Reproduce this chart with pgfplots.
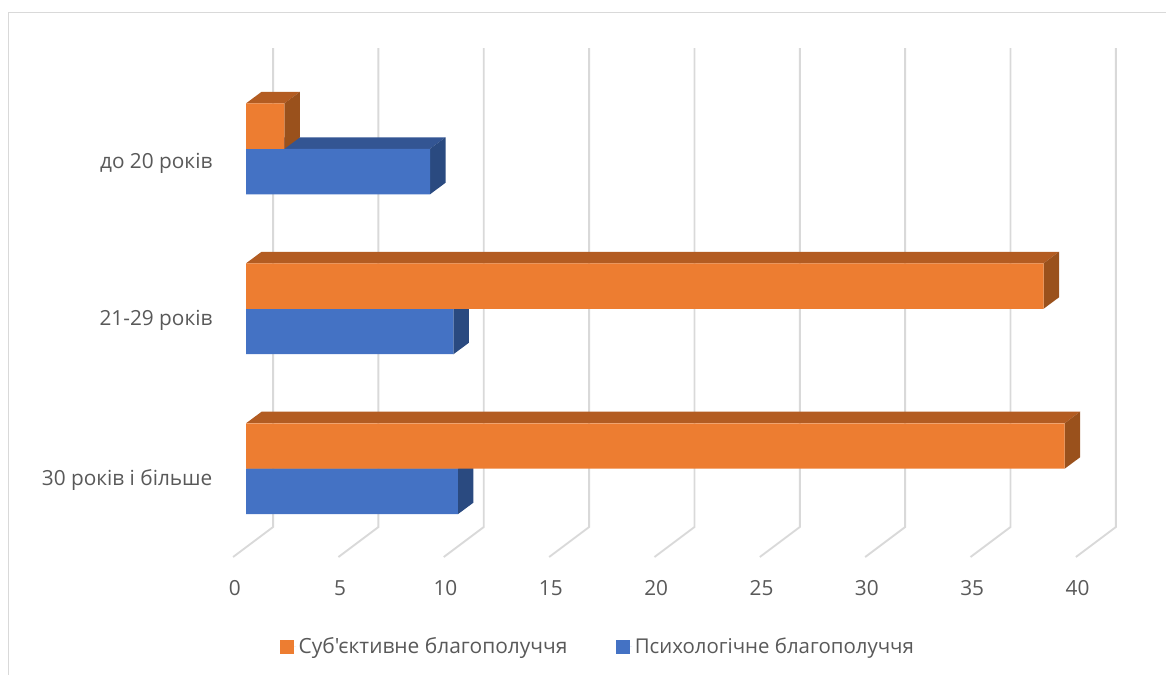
\documentclass[border=0pt]{standalone}
\usepackage{fontspec}
\setmainfont{Open Sans}
\newfontfamily\legendfont{Open Sans}
\usepackage{pgfplots}
\usepackage{pgfplotstable}
\pgfplotsset{compat=1.18}

\definecolor{gridgray}{HTML}{D9D9D9}
\definecolor{textgray}{HTML}{595959}
\definecolor{orangefront}{HTML}{ED7D31}
\definecolor{orangetop}{HTML}{B35C22}
\definecolor{orangeside}{HTML}{9A511C}
\definecolor{bluefront}{HTML}{4472C4}
\definecolor{bluetop}{HTML}{335593}
\definecolor{blueside}{HTML}{2A4A80}

% value per age group; row 0 is the lowest group on the chart
\pgfplotstableread{
cat value
0 10.05
1 9.84
2 8.73
}\psychtable
\pgfplotstableread{
cat value
0 38.85
1 37.85
2 1.82
}\subjtable

% top and right faces of a bar: value, lower edge, upper edge, two colours
\newcommand{\barfaces}[5]{%
  \pgfmathsetmacro{\xa}{#1}%
  \pgfmathsetmacro{\xb}{#1+0.7355}%
  \pgfmathsetmacro{\yu}{#3+0.0719}%
  \pgfmathsetmacro{\yl}{#2+0.0719}%
  \addplot[fill=#4,draw=none,forget plot] coordinates {(0,#3) (\xa,#3) (\xb,\yu) (0.7355,\yu)} --cycle;
  \addplot[fill=#5,draw=none,forget plot] coordinates {(\xa,#2) (\xa,#3) (\xb,\yu) (\xb,\yl)} --cycle;
}

\begin{document}
\begin{tikzpicture}
\begin{axis}[
  scale only axis,
  width=874.5pt,
  height=506.25pt,
  at={(0,0)},
  xmin=-11.673, xmax=43.654,
  ymin=-1.2894, ymax=2.9294,
  axis line style={draw=none},
  major tick length=0pt,
  xtick={0,5,...,40},
  ytick={-0.103,0.895,1.878},
  yticklabels={30 років і більше,21-29 років,до 20 років},
  tick label style={font=\fontsize{15.6pt}{18pt}\selectfont, text=textgray},
  /pgf/number format/assume math mode=true,
  x tick label style={anchor=base, xshift=-8.5pt, yshift=60pt},
  y tick label style={anchor=base east, xshift=162.75pt},
  legend columns=2,
  legend cell align=left,
  legend style={
    at={(axis cs:1.613,-1.112)}, anchor=west,
    draw=none, fill=none, inner sep=0pt, outer sep=0pt,
    font=\legendfont, text=textgray,
    /tikz/every even column/.append style={column sep=34.5pt},
    legend image code/.code={\fill[##1] (0pt,-5.25pt) rectangle (10.5pt,5.25pt); \path (0pt,0pt) -- (12pt,0pt);},
  },
]
\addlegendimage{fill=orangefront,draw=none}
\addlegendentry{\fontsize{15.7pt}{18pt}\selectfont Суб'єктивне благополуччя}
\addlegendimage{fill=bluefront,draw=none}
\addlegendentry{\fontsize{15.3pt}{18pt}\selectfont Психологічне благополуччя}

% chart frame
\addplot[gridgray,line width=1.1pt,forget plot] coordinates {(-11.269,-1.2894) (-11.269,2.851) (43.654,2.851)};

% floor and wall gridlines
\addplot[gridgray,line width=1.4pt,line join=miter,forget plot] coordinates {
(-0.617,-0.5519) (1.281,-0.3644) (1.281,2.6294)

(4.383,-0.5519) (6.281,-0.3644) (6.281,2.6294)

(9.383,-0.5519) (11.281,-0.3644) (11.281,2.6294)

(14.383,-0.5519) (16.281,-0.3644) (16.281,2.6294)

(19.383,-0.5519) (21.281,-0.3644) (21.281,2.6294)

(24.383,-0.5519) (26.281,-0.3644) (26.281,2.6294)

(29.383,-0.5519) (31.281,-0.3644) (31.281,2.6294)

(34.383,-0.5519) (36.281,-0.3644) (36.281,2.6294)

(39.383,-0.5519) (41.281,-0.3644) (41.281,2.6294)
};

% blue series
\pgfplotsinvokeforeach{0,1,2}{
  \pgfplotstablegetelem{#1}{value}\of\psychtable
  \let\barvalue\pgfplotsretval
  \pgfmathsetmacro{\barlow}{#1-0.2844}
  \barfaces{\barvalue}{\barlow}{#1}{bluetop}{blueside}
}
\addplot[xbar,bar width=34.1pt,bar shift=-17.06pt,fill=bluefront,draw=none,forget plot]
  table[x=value,y=cat]{\psychtable};

% orange series
\pgfplotsinvokeforeach{0,1,2}{
  \pgfplotstablegetelem{#1}{value}\of\subjtable
  \let\barvalue\pgfplotsretval
  \pgfmathsetmacro{\barhigh}{#1+0.2844}
  \barfaces{\barvalue}{#1}{\barhigh}{orangetop}{orangeside}
}
\addplot[xbar,bar width=34.1pt,bar shift=17.06pt,fill=orangefront,draw=none,forget plot]
  table[x=value,y=cat]{\subjtable};
\end{axis}
\end{tikzpicture}
\end{document}
